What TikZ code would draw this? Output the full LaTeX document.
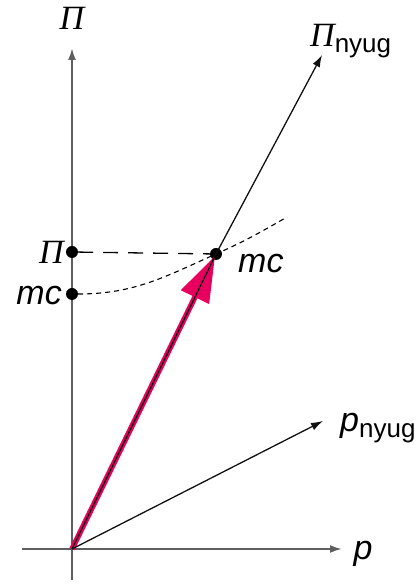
\documentclass[tikz,border=0pt]{standalone}
\usepackage{fontspec}
\setmainfont{Liberation Sans}
\newfontfamily\grkfont{Liberation Serif}
\usetikzlibrary{arrows.meta}
\definecolor{axisC}{HTML}{5F5F5F}
\definecolor{vecC}{HTML}{111111}
\definecolor{pinkC}{HTML}{E8005E}
\newcommand{\Pisym}{{\grkfont\itshape Π}}
\newcommand{\bigsize}{\fontsize{34}{36}\selectfont}
\newcommand{\subsize}{\fontsize{26}{28}\selectfont}
\tikzset{>={Latex[length=12pt,width=8pt]},
  axisline/.style={draw=axisC,line width=2pt},
  vecline/.style={draw=vecC,line width=1.3pt},
  bigvec/.style={draw=pinkC,line width=5.5pt,-{Triangle[length=46pt,width=30pt]}},
  dotpt/.style={circle,fill=black,inner sep=0pt,minimum size=12pt},
  biglab/.style={font=\bigsize,inner sep=0pt}}
\begin{document}
\begin{tikzpicture}[x=1pt,y=1pt]
\useasboundingbox (0,0) rectangle (415,586);
% axes
\coordinate (O) at (72,37);
\coordinate (ybot) at (72,6);\coordinate (ytop) at (72,538);
\coordinate (xleft) at (22,37);\coordinate (xright) at (342,37);
\draw[axisline,->] (ybot) -- (ytop);
\draw[axisline,->] (xleft) -- (xright);
\node[biglab] (PiAx) at (72,568) {\Pisym};
\node[biglab] (pAx) at (363,32) {\itshape p};
% points
\node[dotpt] (PiDot) at (72,334) {};
\node[dotpt] (mcDot) at (72,292) {};
\node[dotpt] (M) at (216,332) {};
\coordinate (cEnd) at (287,369);
\node[biglab,anchor=east] (PiLab) at (64,334) {\Pisym};
\node[biglab,anchor=east] (mcLab) at (62,290) {\itshape mc};
\node[biglab,anchor=west] (mcR) at (238,322) {\itshape mc};
% dashed lines
\draw[black,line width=1.3pt,dash pattern=on 15pt off 10pt] (PiDot) -- (M);
\draw[black,line width=1.1pt,dash pattern=on 5pt off 4pt] (mcDot) to[out=0,in=204] (M.center) to[out=24,in=210] (cEnd);
% vectors
\coordinate (PiTip) at (322,531);
\coordinate (pTip) at (323,165);
\draw[bigvec,shorten >=2pt] (O) -- (M.center);
\draw[vecline] (O) -- (M.center);
\draw[vecline,->] (M.center) -- (PiTip);
\draw[vecline,->] (O) -- (pTip);
\node[anchor=west,inner sep=0pt] (PiNyug) at (310,545) {\bigsize\Pisym\raisebox{-6pt}{\subsize nyug}};
\node[anchor=west,inner sep=0pt] (pNyug) at (340,158) {\bigsize\itshape p\raisebox{-6pt}{\upshape\subsize nyug}};
\end{tikzpicture}
\end{document}
